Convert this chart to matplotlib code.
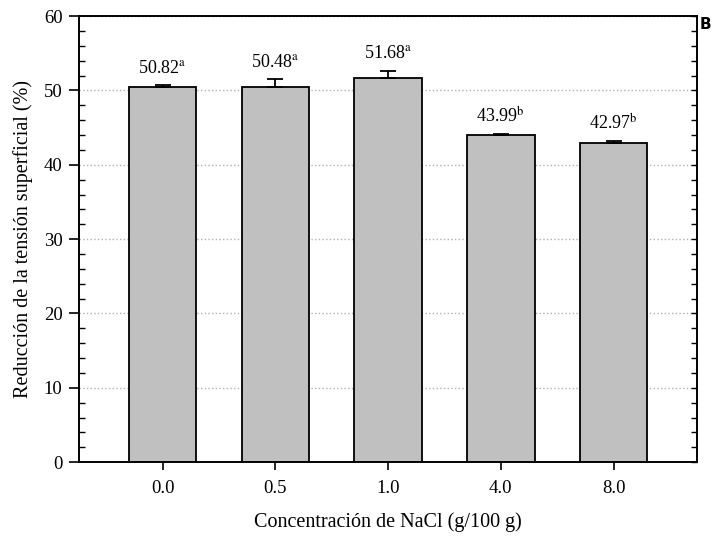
import matplotlib.pyplot as plt
import numpy as np

# datos
categorias = ['0.0', '0.5', '1.0', '4.0', '8.0']
alturas = [50.52, 50.48, 51.68, 43.99, 42.97]
errores = [0.25, 1.0, 1.0, 0.12, 0.2]
etiquetas = ['50.82', '50.48', '51.68', '43.99', '42.97']
letras = ['a', 'a', 'a', 'b', 'b']

plt.rcParams['font.family'] = ['Liberation Serif', 'DejaVu Serif']
plt.rcParams['mathtext.fontset'] = 'stix'

fig = plt.figure(figsize=(7.2, 5.38), dpi=100)
ax = fig.add_axes([0.110, 0.141, 0.858, 0.829])

x = np.arange(len(categorias))
ax.bar(x, alturas, width=0.6, color='#c0c0c0', edgecolor='black', linewidth=1.3, zorder=3)
ax.errorbar(x, alturas, yerr=[np.zeros(len(x)), errores], fmt='none', ecolor='black',
            elinewidth=1.3, capsize=6, capthick=1.3, zorder=4)

for xi, h, e, t, l in zip(x, alturas, errores, etiquetas, letras):
    ax.text(xi, h + e + 1.1, t + r'$^{\mathrm{' + l + '}}$', ha='center', va='bottom', fontsize=13)

ax.set_xlim(-0.74, 4.74)
ax.set_ylim(0, 60)
ax.set_xticks(x)
ax.set_xticklabels(categorias)
ax.set_yticks(np.arange(0, 61, 10))
ax.set_yticks(np.arange(0, 61, 2), minor=True)
ax.tick_params(axis='both', labelsize=13.5)
ax.tick_params(axis='x', direction='out', length=6, width=1.2, pad=7)
ax.tick_params(axis='y', which='major', direction='out', length=7, width=1.2, pad=5)
ax.tick_params(axis='y', which='minor', direction='in', length=4, width=1.0)

# eje derecho solo con marcas hacia dentro
ax2 = ax.twinx()
ax2.set_ylim(0, 60)
ax2.set_yticks(np.arange(0, 61, 2))
ax2.tick_params(axis='y', direction='in', length=4, width=1.0, labelright=False)

for s in list(ax.spines.values()) + list(ax2.spines.values()):
    s.set_linewidth(1.2)

ax.grid(axis='y', which='major', linestyle=':', color='#b0b0b0', linewidth=1.0, zorder=0)

ax.set_xlabel('Concentración de NaCl (g/100 g)', fontsize=14.5, labelpad=11)
ax.set_ylabel('Reducción de la tensión superficial (%)', fontsize=14.5, labelpad=8)

fig.text(0.972, 0.955, 'B', fontsize=11, fontweight='bold', family='DejaVu Sans', ha='left', va='center')

plt.savefig('out.png', dpi=100)
